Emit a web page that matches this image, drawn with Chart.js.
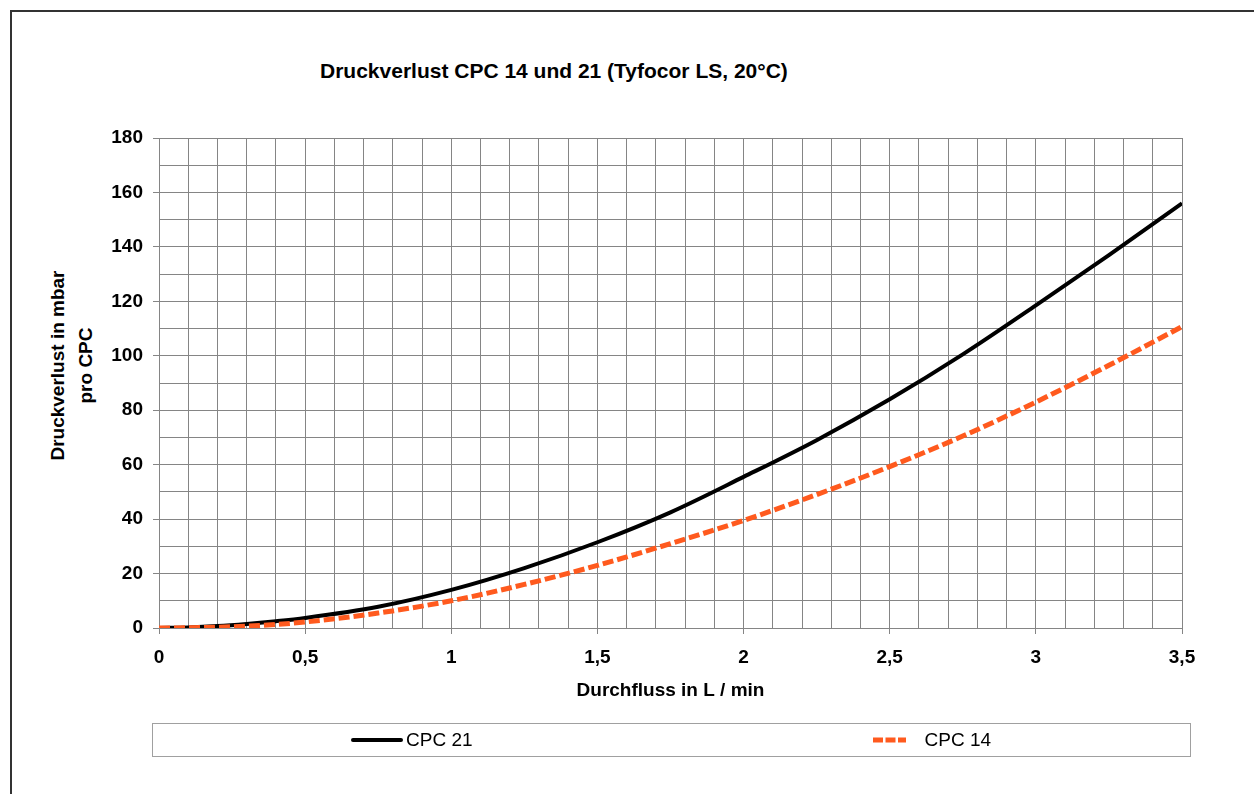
<!DOCTYPE html>
<html>
<head>
<meta charset="utf-8">
<script src="https://cdn.jsdelivr.net/npm/chart.js@4.4.1/dist/chart.umd.min.js"></script>
<style>
    body { margin: 0; background: #fff; overflow: hidden; }
    .grafico-view { position: relative; width: 1254px; height: 794px; overflow: hidden; font-family: 'Liberation Sans', Arial, sans-serif; }
    .marco { position: absolute; left: 10px; top: 10px; width: 1300px; height: 900px; border: 2px solid #333; }
    .titulo { position: absolute; left: 320px; top: 58px; font-size: 21px; line-height: 26px; font-weight: bold; white-space: nowrap; }
    .titulo-y { position: absolute; left: -79px; top: 338px; width: 300px; font-size: 19px; line-height: 27.5px; font-weight: bold; text-align: center; transform: rotate(-90deg); }
    #grafico { position: absolute; left: 0; top: 0; }
    .leyenda { position: absolute; left: 152px; top: 723px; width: 1037px; height: 32px; border: 1px solid #a0a0a0; display: flex; }
    .leyenda-item { position: relative; flex: 1; }
    .leyenda-item svg { position: absolute; top: 11px; }
    .leyenda-item span { position: absolute; top: 5px; font-size: 19px; line-height: 22px; white-space: nowrap; }
</style>
</head>
<body>
<div class="grafico-view">
    <div class="marco"></div>
    <div class="titulo">Druckverlust CPC 14 und 21 (Tyfocor LS, 20°C)</div>
    <div class="titulo-y">Druckverlust in mbar<br>pro CPC</div>
    <canvas id="grafico" width="1254" height="794"></canvas>
    <div class="leyenda" id="leyenda"></div>
</div>
<script>
// Datos
const durchfluss = [0, 0.1, 0.2, 0.3, 0.4, 0.5, 0.75, 1, 1.25, 1.5, 1.75, 2, 2.25, 2.5, 2.75, 3, 3.25, 3.5];
const cpc21 = [0, 0.2, 0.7, 1.5, 2.5, 3.7, 7.8, 14, 22, 31.5, 42.5, 55.5, 69, 84, 100.5, 118.5, 137, 156];
const cpc14 = [0, 0.1, 0.3, 0.7, 1.3, 2.2, 5.5, 10, 16, 23, 31, 39.5, 49, 59.3, 70.5, 83, 96.5, 110.7];

const series = ['CPC 21', 'CPC 14'];
const xTickLabels = ['0', '0,5', '1', '1,5', '2', '2,5', '3', '3,5'];
const yTickLabels = ['0', '20', '40', '60', '80', '100', '120', '140', '160', '180'];

const tickFont = { family: "'Liberation Sans', Arial, sans-serif", size: 19, weight: 'bold' };
const gridColor = '#858585';

function esMultiplo(v, paso) {
    return Math.abs(v / paso - Math.round(v / paso)) < 1e-6;
}

function puntos(valores) {
    return durchfluss.map((x, i) => ({ x: x, y: valores[i] }));
}

const datasets = [
    {
        label: series[0],
        data: puntos(cpc21),
        borderColor: '#000000',
        borderWidth: 4,
        order: 2
    },
    {
        label: series[1],
        data: puntos(cpc14),
        borderColor: '#ff5a1e',
        borderWidth: 5,
        borderDash: [11, 4],
        order: 1
    }
];

const ctx = document.getElementById('grafico').getContext('2d');
new Chart(ctx, {
    type: 'line',
    data: { datasets: datasets },
    options: {
        responsive: false,
        animation: false,
        devicePixelRatio: 1,
        layout: { padding: { left: 14, right: 72, top: 138, bottom: 86 } },
        elements: {
            point: { radius: 0 },
            line: { cubicInterpolationMode: 'monotone', borderCapStyle: 'butt' }
        },
        plugins: {
            legend: { display: false },
            title: { display: false },
            tooltip: { enabled: false }
        },
        scales: {
            x: {
                type: 'linear',
                min: 0,
                max: 3.5,
                afterFit: s => { s.height = 80; },
                ticks: {
                    stepSize: 0.1,
                    autoSkip: false,
                    maxRotation: 0,
                    padding: 12,
                    color: '#000',
                    font: tickFont,
                    callback: v => esMultiplo(v, 0.5) ? xTickLabels[Math.round(v * 2)] : ''
                },
                grid: {
                    color: gridColor,
                    lineWidth: 1,
                    tickLength: 6,
                    tickColor: c => (c.tick && esMultiplo(c.tick.value, 0.5)) ? gridColor : 'rgba(0,0,0,0)'
                },
                border: { color: gridColor },
                title: {
                    display: true,
                    text: 'Durchfluss in L / min',
                    color: '#000',
                    font: tickFont,
                    padding: { top: 0, bottom: 6 }
                }
            },
            y: {
                min: 0,
                max: 180,
                afterFit: s => { s.width = 145; },
                ticks: {
                    stepSize: 10,
                    autoSkip: false,
                    padding: 10,
                    color: '#000',
                    font: tickFont,
                    callback: v => esMultiplo(v, 20) ? yTickLabels[Math.round(v / 20)] : ''
                },
                grid: {
                    color: gridColor,
                    lineWidth: 1,
                    tickLength: 6,
                    tickColor: c => (c.tick && esMultiplo(c.tick.value, 20)) ? gridColor : 'rgba(0,0,0,0)'
                },
                border: { color: gridColor }
            }
        }
    }
});

// Leyenda en HTML con el recuadro del original
const leyenda = document.getElementById('leyenda');
leyenda.innerHTML = datasets.map((ds, i) => {
    const dash = ds.borderDash ? `stroke-dasharray="10 2.5"` : `stroke-linecap="round"`;
    const lineaX = i === 0 ? 200 : 201;
    const textoX = i === 0 ? 253 : 253;
    const ancho = i === 0 ? 48 : 33;
    return `
        <div class="leyenda-item">
            <svg width="${ancho + 4}" height="10" style="left:${lineaX - 2}px">
                <line x1="2" y1="5" x2="${ancho + 2}" y2="5" stroke="${ds.borderColor}" stroke-width="${ds.borderWidth}" ${dash}/>
            </svg>
            <span style="left:${textoX}px">${ds.label}</span>
        </div>`;
}).join('');
</script>
</body>
</html>
